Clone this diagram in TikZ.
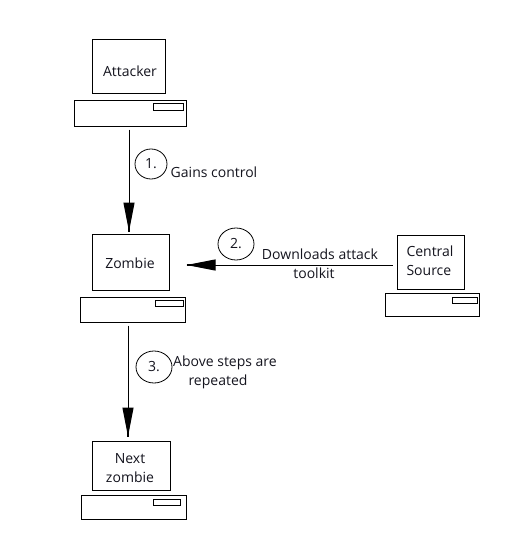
\documentclass[tikz,border=0pt]{standalone}
\usepackage{fontspec}
\setmainfont{Open Sans}
\usetikzlibrary{arrows.meta,shapes.geometric}
\definecolor{ink}{HTML}{14141E}
\tikzset{
  unitbox/.style={draw=black,line width=1pt,fill=white,inner sep=0pt},
  boxtext/.style={text=ink,inner sep=0pt,font=\fontsize{14pt}{19pt}\selectfont},
  stepmark/.style={draw=black,line width=0.8pt,ellipse,inner sep=0pt,text=ink,font=\fontsize{14pt}{16pt}\selectfont},
  conn/.style={draw=black,line width=1pt,-{Triangle[length=29pt,width=11pt,sep=-14pt]Rectangle[length=14pt,width=2.8pt]}}
}
\begin{document}
\begin{tikzpicture}[x=1pt,y=-1pt]
\useasboundingbox (0,0) rectangle (511,541);
% Attacker
\node[unitbox,minimum width=73pt,minimum height=54pt] (amon) at (128.5,66) {};
\node[unitbox,minimum width=112pt,minimum height=26pt] (abase) at (130,113) {};
\node[unitbox,minimum width=30pt,minimum height=7pt] (aslot) at (168,106.5) {};
\node[boxtext] (atext) at (130,71) {Attacker};
% Zombie
\node[unitbox,minimum width=77pt,minimum height=56pt] (zmon) at (130.5,262) {};
\node[unitbox,minimum width=105pt,minimum height=25pt] (zbase) at (132.5,309.5) {};
\node[unitbox,minimum width=28pt,minimum height=6pt] (zslot) at (169,303) {};
\node[boxtext] (ztext) at (130,263) {Zombie};
% Central source
\node[unitbox,minimum width=67pt,minimum height=54pt] (cmon) at (430.5,262) {};
\node[unitbox,minimum width=94pt,minimum height=23pt] (cbase) at (432,304.5) {};
\node[unitbox,minimum width=25pt,minimum height=6pt] (cslot) at (464.5,300) {};
\node[boxtext,align=left] (ctext) at (430,260.5) {Central\\Source};
% Next zombie
\node[unitbox,minimum width=78pt,minimum height=49pt] (nmon) at (131,465.5) {};
\node[unitbox,minimum width=105pt,minimum height=24pt] (nbase) at (133.5,507) {};
\node[unitbox,minimum width=27pt,minimum height=6pt] (nslot) at (166.5,502) {};
\node[boxtext,align=center] (ntext) at (130,468.5) {Next\\zombie};
% Step marks
\node[stepmark,minimum width=32pt,minimum height=30pt] (s1) at (151,164) {1.};
\node[stepmark,minimum width=36pt,minimum height=32pt] (s2) at (236,244) {2.};
\node[stepmark,minimum width=36pt,minimum height=32pt] (s3) at (154,367) {3.};
% Labels
\node[boxtext] (l1) at (214,172.5) {Gains control};
\node[boxtext,align=center] (l2) at (320,263.5) {Downloads attack\\toolkit\hspace*{12pt}};
\node[boxtext,align=center] (l3) at (225,372.5) {Above steps are\\repeated\hspace*{14pt}};
% Connectors
\draw[conn,shorten <=3pt,shorten >=2pt] ([xshift=-1pt]abase.south) -- ([xshift=-1.5pt]zmon.north);
\draw[conn,shorten <=4pt,shorten >=17pt] ([yshift=-3pt]cmon.west) -- ([yshift=-3pt]zmon.east);
\draw[conn,shorten <=3pt,shorten >=4pt] ([xshift=-4.5pt]zbase.south) -- ([xshift=-3pt]nmon.north);
\end{tikzpicture}
\end{document}
